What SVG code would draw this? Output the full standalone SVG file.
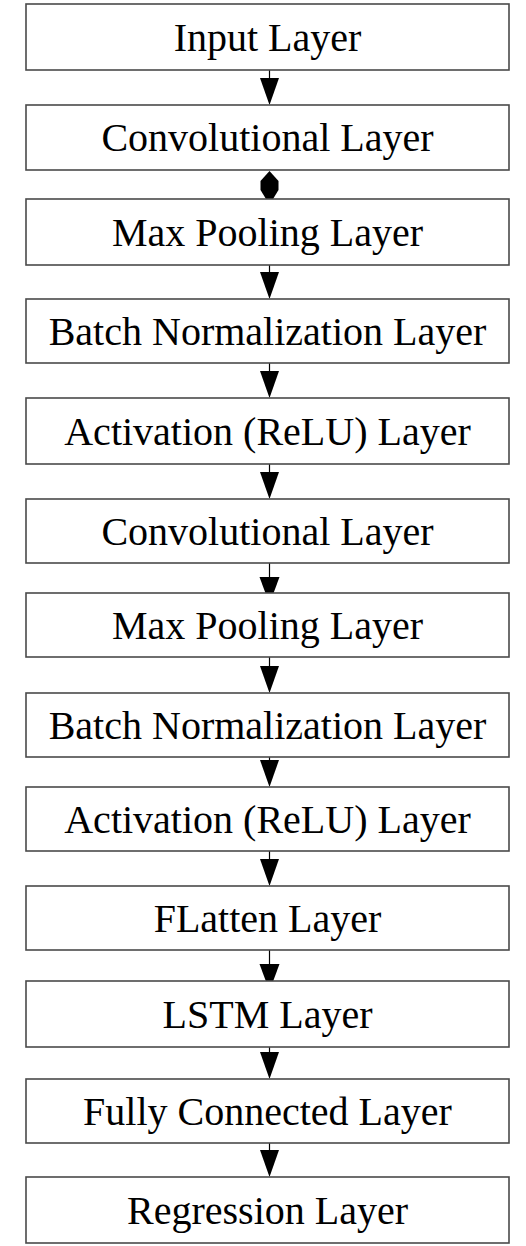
<svg xmlns="http://www.w3.org/2000/svg" width="526" height="1246" viewBox="0 0 526 1246">
<style>
.box{fill:#fff;stroke:#4a4a4a;stroke-width:1.6}
.lbl{font-size:40px;fill:#000;text-anchor:middle}
.stem{stroke:#000;stroke-width:1.2;fill:none}
.head{fill:#000;stroke:none}
</style>
<rect width="526" height="1246" fill="#fff"/>
<g id="connectors">
<line class="stem" x1="269.5" y1="70" x2="269.5" y2="78"/><polygon class="head" points="260,78 279,78 269.5,105"/>
<polygon class="head" points="269.5,171 260.5,181 260.5,190 266,199 273,199 278.5,190 278.5,181"/>
<line class="stem" x1="269.5" y1="265" x2="269.5" y2="272"/><polygon class="head" points="260,272 279,272 269.5,299"/>
<line class="stem" x1="269.5" y1="363" x2="269.5" y2="371"/><polygon class="head" points="260,371 279,371 269.5,398"/>
<line class="stem" x1="269.5" y1="464" x2="269.5" y2="472"/><polygon class="head" points="260,472 279,472 269.5,499"/>
<line class="stem" x1="269.5" y1="563" x2="269.5" y2="577"/><polygon class="head" points="259.5,577 279.5,577 269.5,604"/>
<line class="stem" x1="269.5" y1="657" x2="269.5" y2="666"/><polygon class="head" points="260,666 279,666 269.5,693"/>
<line class="stem" x1="269.5" y1="757" x2="269.5" y2="760"/><polygon class="head" points="260,760 279,760 269.5,787"/>
<line class="stem" x1="269.5" y1="851" x2="269.5" y2="859"/><polygon class="head" points="260,859 279,859 269.5,886"/>
<line class="stem" x1="269.5" y1="950" x2="269.5" y2="964"/><polygon class="head" points="259.5,964 279.5,964 269.5,991"/>
<line class="stem" x1="269.5" y1="1047" x2="269.5" y2="1052"/><polygon class="head" points="260,1052 279,1052 269.5,1079"/>
<line class="stem" x1="269.5" y1="1143" x2="269.5" y2="1150"/><polygon class="head" points="260,1150 279,1150 269.5,1177"/>
</g>
<g font-family="Liberation Serif, Times New Roman, serif">
<g id="n1"><rect class="box" x="26" y="4" width="483" height="66"/><text class="lbl" font-family="Liberation Serif" x="267.5" y="51">Input Layer</text></g>
<g id="n2"><rect class="box" x="26" y="105" width="483" height="65"/><text class="lbl" font-family="Liberation Serif" x="267.5" y="151">Convolutional Layer</text></g>
<g id="n3"><rect class="box" x="26" y="199" width="483" height="66"/><text class="lbl" font-family="Liberation Serif" x="267.5" y="246">Max Pooling Layer</text></g>
<g id="n4"><rect class="box" x="26" y="299" width="483" height="64"/><text class="lbl" font-family="Liberation Serif" x="267.5" y="345">Batch Normalization Layer</text></g>
<g id="n5"><rect class="box" x="26" y="398" width="483" height="66"/><text class="lbl" font-family="Liberation Serif" x="267.5" y="445">Activation (ReLU) Layer</text></g>
<g id="n6"><rect class="box" x="26" y="499" width="483" height="64"/><text class="lbl" font-family="Liberation Serif" x="267.5" y="545">Convolutional Layer</text></g>
<g id="n7"><rect class="box" x="26" y="593" width="483" height="64"/><text class="lbl" font-family="Liberation Serif" x="267.5" y="639">Max Pooling Layer</text></g>
<g id="n8"><rect class="box" x="26" y="693" width="483" height="64"/><text class="lbl" font-family="Liberation Serif" x="267.5" y="739">Batch Normalization Layer</text></g>
<g id="n9"><rect class="box" x="26" y="787" width="483" height="64"/><text class="lbl" font-family="Liberation Serif" x="267.5" y="833">Activation (ReLU) Layer</text></g>
<g id="n10"><rect class="box" x="26" y="886" width="483" height="64"/><text class="lbl" font-family="Liberation Serif" x="267.5" y="932">FLatten Layer</text></g>
<g id="n11"><rect class="box" x="26" y="981" width="483" height="66"/><text class="lbl" font-family="Liberation Serif" x="267.5" y="1028">LSTM Layer</text></g>
<g id="n12"><rect class="box" x="26" y="1079" width="483" height="64"/><text class="lbl" font-family="Liberation Serif" x="267.5" y="1125">Fully Connected Layer</text></g>
<g id="n13"><rect class="box" x="26" y="1177" width="483" height="66"/><text class="lbl" font-family="Liberation Serif" x="267.5" y="1224">Regression Layer</text></g>
</g>
</svg>
